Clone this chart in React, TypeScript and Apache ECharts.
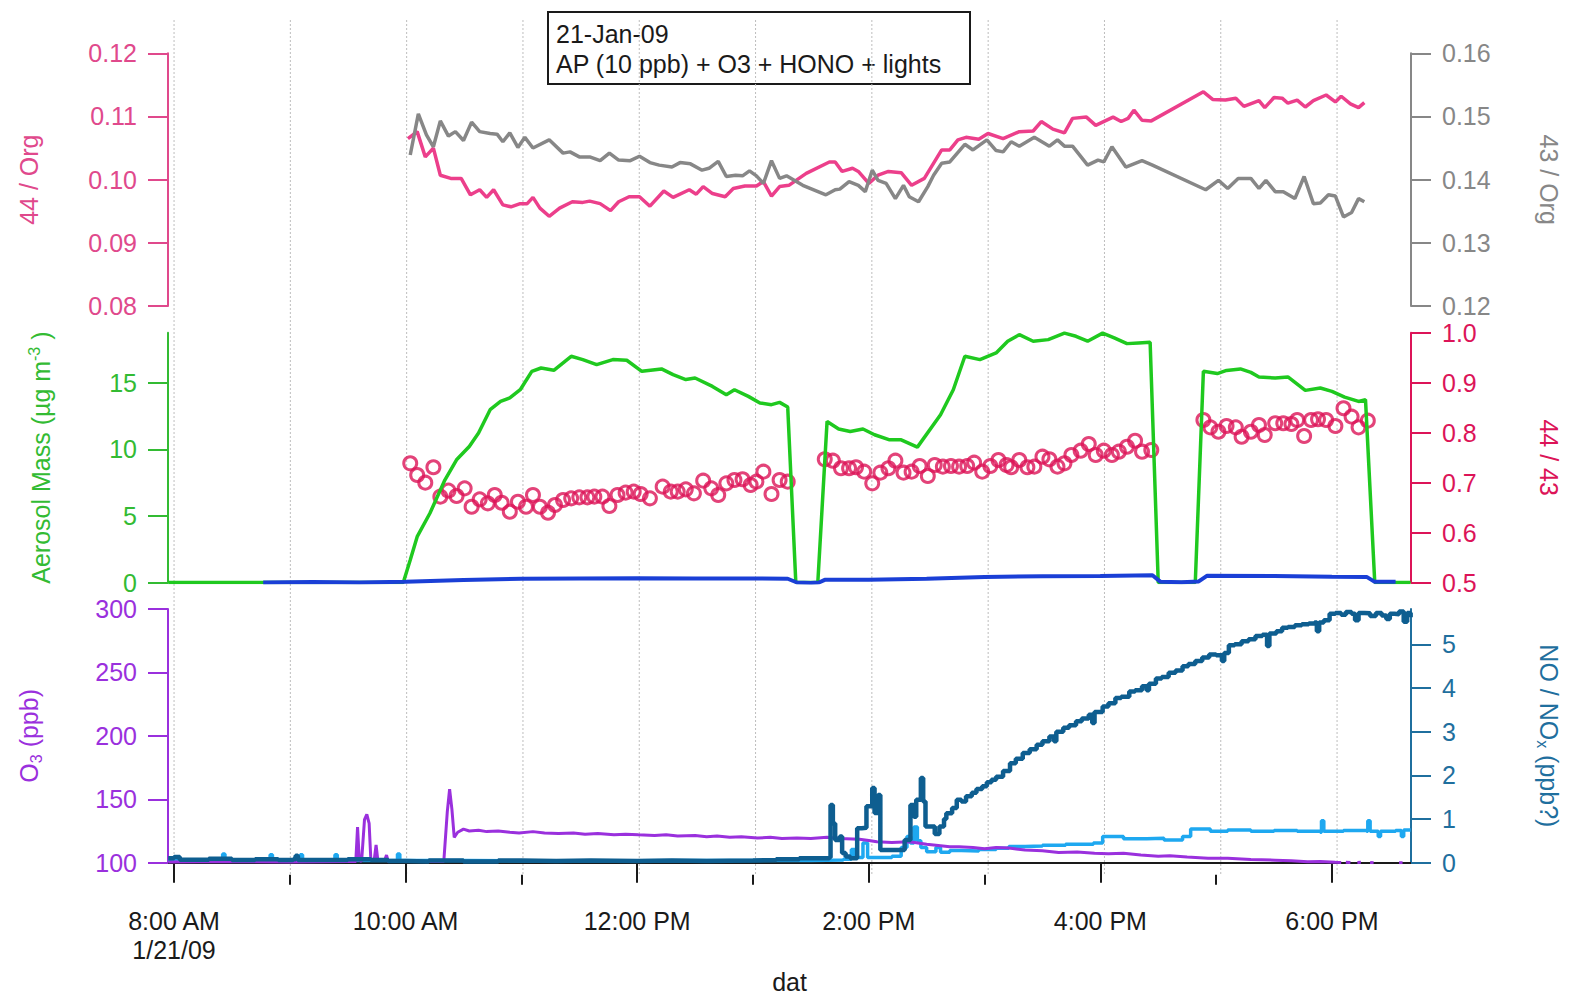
import React, { useEffect, useRef } from 'react';
import * as echarts from 'echarts';

// ---------- axis ranges & ticks ----------
const X_MIN = 7.948;
const X_MAX = 18.683;
const xMajorHours = [8, 10, 12, 14, 16, 18];
const xMajorLabels = ['8:00 AM\n1/21/09', '10:00 AM', '12:00 PM', '2:00 PM', '4:00 PM', '6:00 PM'];
const xMinorHours = [9, 11, 13, 15, 17];
const gridHours = [8, 9, 10, 11, 12, 13, 14, 15, 16, 17, 18];

const org44Ticks = [0.08, 0.09, 0.1, 0.11, 0.12];
const org43Ticks = [0.12, 0.13, 0.14, 0.15, 0.16];
const massTicks = [0, 5, 10, 15];
const ratioTicks = [0.5, 0.6, 0.7, 0.8, 0.9, 1.0];
const o3Ticks = [100, 150, 200, 250, 300];
const noTicks = [0, 1, 2, 3, 4, 5];

// ---------- data: [hour of day, value] ----------
const org44Points = [
  [10.02, 0.1065], [10.1, 0.1076], [10.17, 0.1036], [10.24, 0.105], [10.3, 0.1007], [10.39, 0.1002],
  [10.48, 0.1002], [10.56, 0.0976], [10.64, 0.0984], [10.7, 0.0972], [10.76, 0.0984], [10.84, 0.096],
  [10.91, 0.0957], [10.99, 0.0962], [11.05, 0.0962], [11.1, 0.0972], [11.16, 0.0955], [11.24, 0.0942],
  [11.33, 0.0955], [11.44, 0.0965], [11.53, 0.0964], [11.59, 0.0966], [11.68, 0.0962], [11.77, 0.0951],
  [11.84, 0.0965], [11.93, 0.0973], [12.02, 0.0973], [12.11, 0.0958], [12.23, 0.0982], [12.31, 0.0972],
  [12.45, 0.0984], [12.51, 0.0977], [12.57, 0.0989], [12.65, 0.0978], [12.76, 0.0973], [12.83, 0.0986],
  [12.93, 0.099], [13.03, 0.099], [13.09, 0.0997], [13.16, 0.0974], [13.23, 0.0989], [13.31, 0.0991],
  [13.46, 0.101], [13.66, 0.1028], [13.71, 0.1028], [13.77, 0.1013], [13.86, 0.1018], [13.91, 0.1013],
  [14.0, 0.0994], [14.08, 0.1007], [14.17, 0.1013], [14.28, 0.1011], [14.37, 0.0991], [14.48, 0.1002],
  [14.63, 0.1047], [14.7, 0.1047], [14.77, 0.1063], [14.84, 0.1067], [14.95, 0.1064], [15.03, 0.1073],
  [15.16, 0.1065], [15.3, 0.1076], [15.42, 0.1077], [15.49, 0.1092], [15.59, 0.108], [15.69, 0.1074],
  [15.76, 0.1097], [15.88, 0.1099], [15.96, 0.1086], [16.11, 0.1099], [16.18, 0.1092], [16.24, 0.1097],
  [16.29, 0.111], [16.36, 0.1094], [16.44, 0.1093], [16.89, 0.1139], [16.97, 0.1127], [17.08, 0.1126],
  [17.17, 0.1129], [17.24, 0.1116], [17.37, 0.1125], [17.42, 0.1114], [17.5, 0.113], [17.57, 0.1129],
  [17.62, 0.1121], [17.7, 0.1126], [17.77, 0.1115], [17.84, 0.1125], [17.95, 0.1134], [18.03, 0.1123],
  [18.08, 0.1132], [18.16, 0.112], [18.23, 0.1114], [18.28, 0.1122],
];

const org43Points = [
  [10.04, 0.1439], [10.11, 0.1504], [10.18, 0.1471], [10.24, 0.1452], [10.3, 0.1493], [10.37, 0.1469],
  [10.43, 0.1476], [10.5, 0.1462], [10.57, 0.1491], [10.64, 0.1476], [10.73, 0.1473], [10.79, 0.1472],
  [10.84, 0.146], [10.9, 0.1474], [10.97, 0.1451], [11.03, 0.1467], [11.1, 0.145], [11.24, 0.1463],
  [11.36, 0.1442], [11.42, 0.1444], [11.5, 0.1436], [11.59, 0.1436], [11.68, 0.143], [11.76, 0.1442],
  [11.84, 0.1431], [11.94, 0.143], [12.02, 0.1437], [12.11, 0.1427], [12.19, 0.1423], [12.3, 0.142],
  [12.37, 0.1427], [12.46, 0.1425], [12.56, 0.1415], [12.62, 0.1418], [12.7, 0.1429], [12.77, 0.1405],
  [12.85, 0.1407], [12.91, 0.1406], [12.97, 0.1414], [13.03, 0.1406], [13.09, 0.1394], [13.16, 0.143],
  [13.23, 0.1402], [13.29, 0.1406], [13.43, 0.1391], [13.63, 0.1376], [13.71, 0.1384], [13.75, 0.1385],
  [13.83, 0.1397], [13.91, 0.1391], [13.97, 0.1381], [14.03, 0.1415], [14.08, 0.1399], [14.15, 0.1394],
  [14.23, 0.137], [14.3, 0.1391], [14.35, 0.1373], [14.43, 0.1365], [14.51, 0.1389], [14.56, 0.1407],
  [14.63, 0.1426], [14.7, 0.1428], [14.83, 0.1456], [14.9, 0.1447], [15.02, 0.1463], [15.1, 0.1446],
  [15.16, 0.1444], [15.23, 0.146], [15.3, 0.1453], [15.43, 0.1467], [15.56, 0.1453], [15.63, 0.1463],
  [15.69, 0.1453], [15.76, 0.1453], [15.89, 0.1423], [15.98, 0.1431], [16.03, 0.1428], [16.1, 0.1452],
  [16.22, 0.142], [16.36, 0.143], [16.45, 0.1423], [16.91, 0.1384], [17.02, 0.1399], [17.1, 0.1386],
  [17.19, 0.1402], [17.3, 0.1402], [17.37, 0.1386], [17.43, 0.1399], [17.51, 0.1381], [17.58, 0.1381],
  [17.68, 0.137], [17.76, 0.1405], [17.84, 0.1362], [17.9, 0.1363], [17.97, 0.1376], [18.03, 0.1374],
  [18.1, 0.1341], [18.17, 0.1348], [18.23, 0.137], [18.28, 0.1365],
];

const massGreenPoints = [
  [7.95, 0], [9.98, 0], [10.04, 1.69], [10.1, 3.44], [10.21, 5.2], [10.34, 7.71], [10.44, 9.21],
  [10.55, 10.21], [10.63, 11.22], [10.73, 12.97], [10.82, 13.59], [10.9, 13.85], [10.99, 14.47],
  [11.09, 15.85], [11.17, 16.1], [11.28, 15.93], [11.43, 16.98], [11.53, 16.73], [11.65, 16.35],
  [11.79, 16.73], [11.91, 16.68], [12.04, 15.85], [12.21, 16.03], [12.31, 15.6], [12.42, 15.23],
  [12.5, 15.35], [12.65, 14.72], [12.77, 14.1], [12.84, 14.47], [12.96, 13.97], [13.06, 13.47],
  [13.16, 13.35], [13.23, 13.52], [13.3, 13.17], [13.37, 0], [13.56, 0], [13.64, 12.09], [13.74, 11.52],
  [13.84, 11.34], [13.95, 11.52], [14.05, 11.09], [14.18, 10.71], [14.28, 10.71], [14.42, 10.16],
  [14.62, 12.59], [14.73, 14.47], [14.83, 16.98], [14.96, 16.73], [15.1, 17.23], [15.2, 18.11],
  [15.3, 18.6], [15.42, 18.11], [15.55, 18.23], [15.69, 18.72], [15.79, 18.48], [15.89, 18.11],
  [16.02, 18.72], [16.12, 18.36], [16.23, 17.93], [16.33, 17.98], [16.43, 18.03], [16.5, 0], [16.82, 0],
  [16.89, 15.85], [17.01, 15.68], [17.09, 15.92], [17.21, 16.03], [17.3, 15.77], [17.37, 15.43],
  [17.51, 15.35], [17.62, 15.43], [17.77, 14.42], [17.9, 14.6], [18.0, 14.35], [18.11, 13.92],
  [18.23, 13.59], [18.29, 13.72], [18.37, 0], [18.68, 0],
];

const massBluePoints = [
  [8.77, 0.0], [9.2, 0.03], [9.6, 0.0], [10.0, 0.05], [10.5, 0.18], [11.0, 0.28], [11.5, 0.3],
  [12.0, 0.32], [12.5, 0.3], [13.0, 0.3], [13.3, 0.28], [13.38, 0.0], [13.5, -0.04], [13.57, 0.0],
  [13.62, 0.2], [14.0, 0.2], [14.5, 0.28], [15.0, 0.42], [15.5, 0.46], [16.0, 0.48], [16.45, 0.55],
  [16.52, 0.05], [16.7, 0.02], [16.85, 0.08], [16.92, 0.5], [17.5, 0.48], [18.0, 0.44], [18.3, 0.42],
  [18.37, 0.05], [18.55, 0.05],
];

const ratioPoints = [
  [10.04, 0.7386], [10.1, 0.7152], [10.17, 0.6998], [10.24, 0.7306], [10.3, 0.6718], [10.37, 0.6838],
  [10.44, 0.6731], [10.51, 0.6885], [10.57, 0.6517], [10.64, 0.6665], [10.71, 0.6585], [10.77, 0.6751],
  [10.83, 0.6597], [10.9, 0.6417], [10.97, 0.6617], [11.04, 0.6517], [11.1, 0.6751], [11.16, 0.6517],
  [11.23, 0.6397], [11.29, 0.6551], [11.36, 0.6651], [11.43, 0.6685], [11.5, 0.6705], [11.57, 0.6705],
  [11.63, 0.6718], [11.7, 0.6718], [11.76, 0.6531], [11.83, 0.6751], [11.9, 0.6798], [11.97, 0.6818],
  [12.03, 0.6771], [12.11, 0.6685], [12.22, 0.6918], [12.29, 0.6818], [12.35, 0.6818], [12.42, 0.6865],
  [12.49, 0.6785], [12.57, 0.7038], [12.64, 0.6885], [12.7, 0.6751], [12.77, 0.6985], [12.84, 0.7052],
  [12.91, 0.7066], [12.98, 0.6952], [13.03, 0.7018], [13.09, 0.7218], [13.16, 0.6771], [13.23, 0.7052],
  [13.3, 0.7018], [13.62, 0.7466], [13.69, 0.7438], [13.76, 0.7286], [13.83, 0.7286], [13.89, 0.7306],
  [13.96, 0.7218], [14.03, 0.6985], [14.1, 0.7198], [14.17, 0.7286], [14.23, 0.7438], [14.3, 0.7198],
  [14.37, 0.7218], [14.44, 0.7332], [14.51, 0.7132], [14.57, 0.7352], [14.64, 0.7318], [14.71, 0.7332],
  [14.78, 0.7318], [14.85, 0.7332], [14.91, 0.7398], [14.98, 0.7218], [15.05, 0.7332], [15.12, 0.7452],
  [15.19, 0.7352], [15.23, 0.7306], [15.3, 0.7452], [15.37, 0.7306], [15.43, 0.7318], [15.5, 0.7518],
  [15.56, 0.7466], [15.63, 0.7318], [15.69, 0.7386], [15.75, 0.7552], [15.83, 0.7638], [15.9, 0.7772],
  [15.96, 0.7552], [16.03, 0.7638], [16.1, 0.7552], [16.16, 0.7618], [16.23, 0.7718], [16.3, 0.7838],
  [16.36, 0.7618], [16.44, 0.7652], [16.89, 0.8253], [16.95, 0.8106], [17.02, 0.8018], [17.09, 0.8133],
  [17.17, 0.8106], [17.22, 0.7918], [17.3, 0.8018], [17.37, 0.8153], [17.42, 0.7952], [17.51, 0.8187],
  [17.58, 0.8187], [17.65, 0.8173], [17.7, 0.8253], [17.76, 0.7932], [17.82, 0.8253], [17.88, 0.8267],
  [17.95, 0.8253], [18.03, 0.8133], [18.1, 0.8487], [18.17, 0.8319], [18.23, 0.8106], [18.31, 0.8239],
];

const o3Points = [
  [7.95, 100.5], [8.5, 101], [9.0, 100.5], [9.5, 101], [9.57, 101], [9.585, 128], [9.6, 102], [9.62, 101],
  [9.645, 134], [9.665, 138], [9.685, 131], [9.7, 102], [9.73, 103], [9.745, 114], [9.76, 102], [9.82, 102],
  [9.835, 106], [9.85, 101], [10.33, 101], [10.36, 140], [10.38, 158], [10.4, 142], [10.42, 120],
  [10.45, 124], [10.5, 126.5], [10.55, 125], [10.63, 125.5], [10.7, 124.5], [10.8, 125], [10.9, 124],
  [10.98, 123.5], [11.1, 124.5], [11.2, 123.5], [11.32, 123], [11.45, 123.5], [11.55, 122.5], [11.66, 123],
  [11.8, 122], [11.9, 122.5], [12.01, 122], [12.15, 121.5], [12.25, 122], [12.35, 121], [12.5, 121.5],
  [12.6, 120.5], [12.69, 121], [12.8, 120], [12.9, 120.5], [13.04, 119.5], [13.15, 120], [13.25, 119],
  [13.38, 119.5], [13.5, 119], [13.64, 120], [13.75, 119], [13.92, 118.5], [14.0, 117.5], [14.07, 116.5],
  [14.2, 116], [14.35, 116.5], [14.5, 114.5], [14.6, 113.5], [14.7, 112.5], [14.78, 112.5], [14.9, 112],
  [15.0, 111], [15.1, 112], [15.21, 111.5], [15.35, 110], [15.5, 109.5], [15.64, 108], [15.8, 108.5],
  [15.95, 107.5], [16.07, 107], [16.2, 107.5], [16.35, 106], [16.5, 105], [16.6, 105.5], [16.75, 104.5],
  [16.93, 103.5], [17.1, 103.5], [17.3, 102.5], [17.51, 102], [17.65, 101.5], [17.79, 100.8], [17.9, 101],
  [18.03, 100.3], [18.08, 100.2], [18.09, '-'], [18.12, 100.4], [18.16, 100.1], [18.17, '-'],
  [18.22, 100.2], [18.25, 100.3], [18.26, '-'], [18.33, 100.2], [18.36, 100.0], [18.37, '-'],
  [18.58, 100.0], [18.61, 100.0],
];

const noDarkPoints = [
  [7.95, 0.1], [8.0, 0.13], [8.05, 0.07], [8.3, 0.09], [8.5, 0.06], [8.7, 0.08], [8.9, 0.06], [9.03, 0.08],
  [9.05, 0.16], [9.07, 0.06], [9.3, 0.06], [9.5, 0.08], [9.7, 0.06], [9.85, 0.04], [10.0, 0.03],
  [10.2, 0.05], [10.5, 0.03], [10.8, 0.05], [11.0, 0.04], [11.3, 0.05], [11.6, 0.04], [12.0, 0.05],
  [12.3, 0.04], [12.6, 0.05], [13.0, 0.06], [13.2, 0.08], [13.4, 0.1], [13.62, 0.1], [13.66, 0.12],
  [13.67, 1.32], [13.69, 0.9], [13.71, 0.52], [13.75, 0.6], [13.77, 0.22], [13.8, 0.14], [13.84, 0.1],
  [13.9, 0.79], [13.94, 0.8], [13.98, 1.29], [14.03, 1.71], [14.05, 1.14], [14.08, 1.55], [14.1, 0.29],
  [14.14, 0.29], [14.27, 0.29], [14.31, 0.52], [14.36, 1.32], [14.39, 1.05], [14.41, 1.44], [14.45, 1.94],
  [14.47, 1.4], [14.49, 0.83], [14.53, 0.83], [14.57, 0.66], [14.61, 0.83], [14.65, 1.0], [14.67, 1.13],
  [14.72, 1.25], [14.76, 1.44], [14.8, 1.4], [14.84, 1.52], [14.89, 1.6], [14.93, 1.69], [14.98, 1.75],
  [15.02, 1.84], [15.06, 1.9], [15.1, 1.97], [15.16, 2.1], [15.22, 2.28], [15.27, 2.38], [15.33, 2.51],
  [15.39, 2.6], [15.45, 2.7], [15.5, 2.78], [15.56, 2.89], [15.6, 2.78], [15.62, 3.0], [15.68, 3.09],
  [15.73, 3.15], [15.79, 3.24], [15.84, 3.3], [15.9, 3.39], [15.93, 3.2], [15.95, 3.45], [16.02, 3.58],
  [16.07, 3.65], [16.13, 3.77], [16.18, 3.8], [16.25, 3.92], [16.3, 3.95], [16.36, 4.04], [16.4, 3.95],
  [16.42, 4.1], [16.48, 4.22], [16.53, 4.25], [16.59, 4.35], [16.65, 4.4], [16.71, 4.5], [16.76, 4.55],
  [16.82, 4.62], [16.88, 4.7], [16.94, 4.77], [17.0, 4.75], [17.05, 4.62], [17.07, 4.8], [17.11, 4.98],
  [17.16, 5.0], [17.22, 5.07], [17.28, 5.12], [17.34, 5.19], [17.4, 5.22], [17.44, 4.96], [17.46, 5.25],
  [17.52, 5.3], [17.57, 5.38], [17.62, 5.4], [17.68, 5.44], [17.74, 5.46], [17.8, 5.48], [17.85, 5.5],
  [17.87, 5.3], [17.89, 5.5], [17.93, 5.55], [17.98, 5.7], [18.03, 5.72], [18.08, 5.68], [18.12, 5.74],
  [18.17, 5.7], [18.2, 5.55], [18.23, 5.72], [18.28, 5.71], [18.33, 5.65], [18.38, 5.72], [18.43, 5.66],
  [18.47, 5.58], [18.5, 5.7], [18.54, 5.69], [18.58, 5.75], [18.62, 5.52], [18.65, 5.72], [18.68, 5.62],
];

const noLightPoints = [
  [7.95, 0.05], [8.41, 0.05], [8.42, 0.2], [8.44, 0.05], [8.82, 0.05], [8.83, 0.18], [8.85, 0.05],
  [9.08, 0.05], [9.09, 0.18], [9.11, 0.05], [9.38, 0.05], [9.39, 0.18], [9.41, 0.05], [9.92, 0.05],
  [9.93, 0.2], [9.95, 0.05], [10.5, 0.04], [11.5, 0.05], [12.5, 0.05], [13.5, 0.06], [13.78, 0.08],
  [13.85, 0.3], [13.88, 0.12], [13.95, 0.45], [13.99, 0.12], [14.2, 0.15], [14.28, 0.35], [14.33, 0.6],
  [14.36, 0.45], [14.39, 0.82], [14.42, 0.5], [14.45, 0.35], [14.5, 0.25], [14.58, 0.35], [14.62, 0.24],
  [14.7, 0.28], [14.8, 0.27], [14.95, 0.3], [15.1, 0.33], [15.21, 0.37], [15.35, 0.38], [15.5, 0.4],
  [15.7, 0.42], [15.94, 0.45], [16.02, 0.6], [16.2, 0.55], [16.4, 0.56], [16.55, 0.52], [16.71, 0.6],
  [16.78, 0.77], [16.95, 0.72], [17.1, 0.75], [17.3, 0.72], [17.5, 0.74], [17.7, 0.72], [17.9, 0.7],
  [17.91, 0.96], [17.93, 0.72], [18.1, 0.74], [18.3, 0.72], [18.31, 0.96], [18.33, 0.72], [18.4, 0.6],
  [18.42, 0.72], [18.55, 0.74], [18.6, 0.6], [18.62, 0.75], [18.68, 0.75],
];

const boxLines = ['21-Jan-09', 'AP (10 ppb) + O3 + HONO + lights'];

// ---------- styling ----------
const FONT = 'Liberation Sans, Arial, Helvetica, sans-serif';
const FS = 25;
const PINK = '#EC3F8B';
const PINK_AX = '#E0498C';
const GRAY = '#878787';
const GREEN = '#1FC91F';
const GREEN_AX = '#33BB33';
const BLUE2 = '#1A3FD6';
const CRIMSON = '#DC1458';
const PURPLE = '#9A30DD';
const NO_DARK = '#0E5E90';
const NO_LIGHT = '#1EA8F0';
const NO_AX = '#1F6F9E';
const BLACK = '#1a1a1a';

const GRID_LEFT = 168;
const GRID_WIDTH = 1248.5;

function yAxisCfg(opts: any) {
  const { gridIndex, min, max, ticks, color, position, digits, name, nameGap, rich, nameRotate } = opts;
  return {
    type: 'value',
    gridIndex,
    min,
    max,
    position,
    axisLine: { show: true, lineStyle: { color, width: 2 } },
    axisTick: { show: true, inside: false, length: 20, customValues: ticks, lineStyle: { color, width: 2 } },
    axisLabel: {
      customValues: ticks,
      margin: 31,
      color,
      fontSize: FS,
      fontFamily: FONT,
      formatter: (v: number) => v.toFixed(digits),
    },
    splitLine: { show: false },
    name,
    nameLocation: 'middle',
    nameGap,
    nameRotate,
    nameTextStyle: {
      color,
      fontSize: FS,
      fontFamily: FONT,
      lineHeight: 30,
      rich: rich || {},
    },
  };
}

export default function App() {
  const ref = useRef<HTMLDivElement>(null);

  useEffect(() => {
    document.body.style.margin = '0';
    if (!ref.current) return;
    const chart = echarts.init(ref.current, null, { renderer: 'svg' });

    const hiddenX = (gridIndex: number) => ({
      type: 'value',
      gridIndex,
      min: X_MIN,
      max: X_MAX,
      show: false,
      splitLine: { show: false },
    });

    const option: any = {
      animation: false,
      backgroundColor: '#ffffff',
      grid: [
        { left: GRID_LEFT, top: 53.3, width: GRID_WIDTH, height: 252.7 },
        { left: GRID_LEFT, top: 332.7, width: GRID_WIDTH, height: 249.8 },
        { left: GRID_LEFT, top: 609, width: GRID_WIDTH, height: 253.7 },
        { left: GRID_LEFT, top: 20, width: GRID_WIDTH, height: 855 },
      ],
      xAxis: [
        hiddenX(0),
        hiddenX(1),
        {
          type: 'value',
          gridIndex: 2,
          min: X_MIN,
          max: X_MAX,
          position: 'bottom',
          offset: 12,
          axisLine: { show: true, lineStyle: { color: BLACK, width: 2 } },
          axisTick: { show: true, length: 20, customValues: xMajorHours, lineStyle: { color: BLACK, width: 2 } },
          axisLabel: {
            customValues: xMajorHours,
            margin: 32,
            color: BLACK,
            fontSize: FS,
            fontFamily: FONT,
            lineHeight: 29,
            formatter: (v: number) => {
              const i = xMajorHours.indexOf(Math.round(v));
              return i >= 0 ? xMajorLabels[i] : '';
            },
          },
          splitLine: { show: false },
          name: 'dat',
          nameLocation: 'middle',
          nameGap: 95,
          nameTextStyle: { color: BLACK, fontSize: FS, fontFamily: FONT },
        },
        {
          type: 'value',
          gridIndex: 2,
          min: X_MIN,
          max: X_MAX,
          position: 'bottom',
          offset: 12,
          axisLine: { show: false },
          axisTick: { show: true, length: 10, customValues: xMinorHours, lineStyle: { color: BLACK, width: 2 } },
          axisLabel: { show: false },
          splitLine: { show: false },
        },
        hiddenX(3),
      ],
      yAxis: [
        yAxisCfg({ gridIndex: 0, min: 0.08, max: 0.12, ticks: org44Ticks, color: PINK_AX, position: 'left', digits: 2,
          name: '44 / Org', nameGap: 124 }),
        yAxisCfg({ gridIndex: 0, min: 0.12, max: 0.16, ticks: org43Ticks, color: GRAY, position: 'right', digits: 2,
          name: '43 / Org', nameGap: 123, nameRotate: -90 }),
        yAxisCfg({ gridIndex: 1, min: 0, max: 18.75, ticks: massTicks, color: GREEN_AX, position: 'left', digits: 0,
          name: 'Aerosol Mass (µg m{sup|-3} )', nameGap: 112,
          rich: { sup: { fontSize: 16, verticalAlign: 'top', color: GREEN_AX, fontFamily: FONT, lineHeight: 30 } } }),
        yAxisCfg({ gridIndex: 1, min: 0.5, max: 1.0, ticks: ratioTicks, color: CRIMSON, position: 'right', digits: 1,
          name: '44 / 43', nameGap: 123, nameRotate: -90 }),
        yAxisCfg({ gridIndex: 2, min: 100, max: 300, ticks: o3Ticks, color: PURPLE, position: 'left', digits: 0,
          name: 'O{sub|3} (ppb)', nameGap: 124,
          rich: { sub: { fontSize: 16, verticalAlign: 'bottom', color: PURPLE, fontFamily: FONT, lineHeight: 30 } } }),
        yAxisCfg({ gridIndex: 2, min: 0, max: 5.81, ticks: noTicks, color: NO_AX, position: 'right', digits: 0,
          name: 'NO / NO{sub|x} (ppb?)', nameGap: 123, nameRotate: -90,
          rich: { sub: { fontSize: 16, verticalAlign: 'bottom', color: NO_AX, fontFamily: FONT, lineHeight: 30 } } }),
        { type: 'value', gridIndex: 3, min: 0, max: 1, show: false, splitLine: { show: false } },
      ],
      graphic: [
        {
          type: 'group',
          z: 100,
          children: [
            {
              type: 'rect',
              shape: { x: 548, y: 12, width: 422, height: 72 },
              style: { fill: '#ffffff', stroke: BLACK, lineWidth: 2 },
            },
            {
              type: 'text',
              x: 556,
              y: 19,
              style: {
                text: boxLines.join('\n'),
                font: `${FS}px ${FONT}`,
                fill: BLACK,
                lineHeight: 30,
                verticalAlign: 'top',
                align: 'left',
              },
            },
          ],
        },
      ],
      series: [
        {
          type: 'custom',
          xAxisIndex: 4,
          yAxisIndex: 6,
          z: 0,
          silent: true,
          data: gridHours.map((h) => [h, 0]),
          renderItem: (params: any, api: any) => {
            const x = api.coord([api.value(0), 0])[0];
            const cs = params.coordSys;
            return {
              type: 'line',
              shape: { x1: x, y1: cs.y, x2: x, y2: cs.y + cs.height },
              style: { stroke: '#bdbdbd', lineWidth: 1, lineDash: [2, 2] },
            };
          },
        },
        {
          type: 'line', name: '44/Org', xAxisIndex: 0, yAxisIndex: 0, data: org44Points,
          showSymbol: false, lineStyle: { color: PINK, width: 3.5 }, itemStyle: { color: PINK },
        },
        {
          type: 'line', name: '43/Org', xAxisIndex: 0, yAxisIndex: 1, data: org43Points,
          showSymbol: false, lineStyle: { color: GRAY, width: 3.5 }, itemStyle: { color: GRAY },
        },
        {
          type: 'line', name: 'Mass', xAxisIndex: 1, yAxisIndex: 2, data: massGreenPoints,
          showSymbol: false, lineStyle: { color: GREEN, width: 3.5 }, itemStyle: { color: GREEN },
        },
        {
          type: 'line', name: 'Mass2', xAxisIndex: 1, yAxisIndex: 2, data: massBluePoints,
          showSymbol: false, lineStyle: { color: BLUE2, width: 4 }, itemStyle: { color: BLUE2 },
        },
        {
          type: 'scatter', name: '44/43', xAxisIndex: 1, yAxisIndex: 3, data: ratioPoints,
          symbol: 'circle', symbolSize: 13,
          itemStyle: { color: 'rgba(0,0,0,0)', borderColor: CRIMSON, borderWidth: 3 },
        },
        {
          type: 'line', name: 'NOx', xAxisIndex: 2, yAxisIndex: 5, data: noLightPoints, step: 'end',
          showSymbol: false, lineStyle: { color: NO_LIGHT, width: 3.5 }, itemStyle: { color: NO_LIGHT },
        },
        {
          type: 'line', name: 'O3', xAxisIndex: 2, yAxisIndex: 4, data: o3Points,
          showSymbol: false, connectNulls: false, lineStyle: { color: PURPLE, width: 3 }, itemStyle: { color: PURPLE },
        },
        {
          type: 'line', name: 'NO', xAxisIndex: 2, yAxisIndex: 5, data: noDarkPoints, step: 'end',
          showSymbol: false, lineStyle: { color: NO_DARK, width: 4.5 }, itemStyle: { color: NO_DARK },
        },
      ],
    };

    chart.setOption(option);
    return () => {
      chart.dispose();
    };
  }, []);

  return <div ref={ref} style={{ width: 1572, height: 997 }} />;
}
